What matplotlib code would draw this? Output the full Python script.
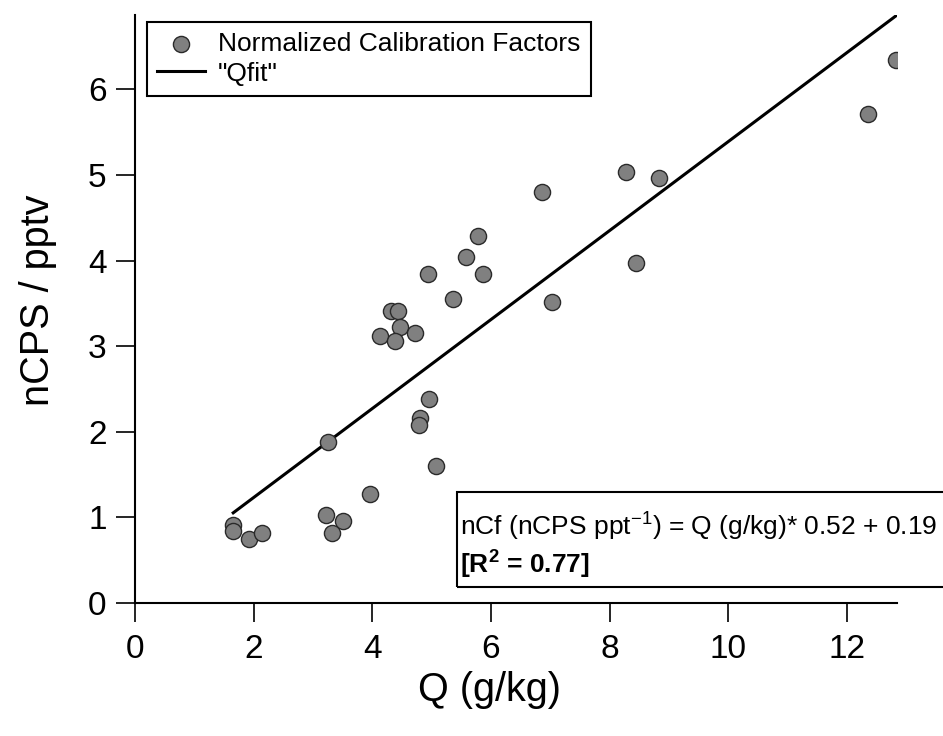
import matplotlib
matplotlib.use("Agg")
import matplotlib.pyplot as plt
from matplotlib.patches import Rectangle
import numpy as np

plt.rcParams['font.family'] = ['Liberation Sans', 'DejaVu Sans']
plt.rcParams['mathtext.fontset'] = 'custom'
plt.rcParams['mathtext.rm'] = 'Liberation Sans'
plt.rcParams['mathtext.it'] = 'Liberation Sans:italic'
plt.rcParams['mathtext.bf'] = 'Liberation Sans:bold'

# specific humidity (g/kg) and normalized calibration factor (nCPS / pptv)
q = [1.655, 1.655, 1.92, 2.14, 3.216, 3.50, 3.32, 3.957, 3.255,
     4.96, 4.80, 4.787, 5.07, 4.945, 5.585, 5.865, 5.36, 7.03,
     8.45, 4.32, 4.44, 4.46, 4.13, 4.383, 4.715, 6.865, 8.27,
     8.83, 12.35, 12.835, 5.775]
ncf = [0.908, 0.84, 0.75, 0.82, 1.02, 0.96, 0.82, 1.267, 1.878,
       2.38, 2.155, 2.077, 1.594, 3.84, 4.036, 3.84, 3.55, 3.518,
       3.97, 3.41, 3.41, 3.225, 3.117, 3.058, 3.148, 4.796, 5.037,
       4.97, 5.71, 6.34, 4.285]

slope = 0.52
intercept = 0.19
r_squared = 0.77

x_ticks = [0, 2, 4, 6, 8, 10, 12]
y_ticks = [0, 1, 2, 3, 4, 5, 6]

fig = plt.figure(figsize=(9.43, 7.36), dpi=100)
ax = fig.add_axes([0.1432, 0.1811, 0.8077, 0.7985])

qfit_x = np.array([min(q), max(q)])
qfit_y = slope * qfit_x + intercept

ax.scatter(q, ncf, s=135, c='#808080', edgecolors='#2a2a2a', linewidths=1.0,
           zorder=3, label='Normalized Calibration Factors')
ax.plot(qfit_x, qfit_y, color='black', lw=2.2, zorder=2, label='"Qfit"')

ax.set_xlim(0, 12.84)
ax.set_ylim(0, 6.87)
ax.set_xticks(x_ticks)
ax.set_yticks(y_ticks)

for side in ['top', 'right']:
    ax.spines[side].set_visible(False)
for side in ['left', 'bottom']:
    ax.spines[side].set_linewidth(1.5)
ax.tick_params(direction='out', length=13.5, width=1.2, labelsize=24)
ax.tick_params(axis='x', pad=9)
ax.tick_params(axis='y', pad=7)

ax.set_xlabel('Q (g/kg)', fontsize=28.5, va='center')
ax.xaxis.set_label_coords(0.466, -0.1486)
ax.set_ylabel('nCPS / pptv', fontsize=28.5, va='center')
ax.yaxis.set_label_coords(-0.1273, 0.515)

leg = ax.legend(loc='upper left', bbox_to_anchor=(0.0154, 0.9886),
                borderaxespad=0, fontsize=19, fancybox=False,
                edgecolor='black', framealpha=1, handlelength=1.8,
                handletextpad=0.5, labelspacing=0.2, borderpad=0.4)
leg.get_frame().set_linewidth(1.5)

# fit equation box, running off the right edge
ax.add_patch(Rectangle((0.4224, 0.0272), 0.7, 0.1617, transform=ax.transAxes,
                       fill=False, edgecolor='black', lw=1.5, clip_on=False,
                       zorder=4))
ax.text(0.427, 0.1285, 'nCf (nCPS ppt$^{-1}$) = Q (g/kg)* %.2f + %.2f' % (slope, intercept),
        transform=ax.transAxes, fontsize=19, va='center', ha='left')
ax.text(0.427, 0.0635, '[R$^\\mathbf{2}$ = %.2f]' % r_squared,
        transform=ax.transAxes, fontsize=19, fontweight='bold',
        va='center', ha='left')

fig.savefig('out.png', dpi=100)
